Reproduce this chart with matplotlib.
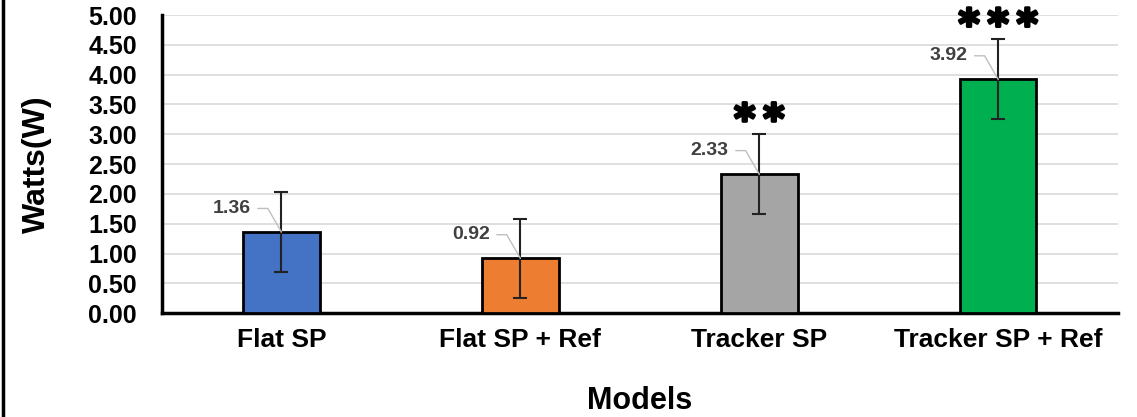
import matplotlib.pyplot as plt
import matplotlib.patheffects as pe
from matplotlib.lines import Line2D

plt.rcParams['font.family'] = ['Liberation Sans', 'DejaVu Sans']

models = ['Flat SP', 'Flat SP + Ref', 'Tracker SP', 'Tracker SP + Ref']
watts = [1.36, 0.92, 2.33, 3.92]
errs = [0.67, 0.66, 0.67, 0.67]
stars = ['', '', '**', '***']
colors = ['#4472C4', '#ED7D31', '#A5A5A5', '#00B050']

fig = plt.figure(figsize=(11.37, 4.17), dpi=100)
ax = fig.add_axes([0.1425, 0.249, 0.8405, 0.715])

x = range(len(models))
ax.bar(x, watts, width=0.32, color=colors, edgecolor='black', linewidth=2, zorder=3)
ax.errorbar(x, watts, yerr=errs, fmt='none', ecolor='#222222', elinewidth=1.5,
            capsize=5, capthick=1.5, zorder=4)

for i, v in enumerate(watts):
    ax.annotate('%.2f' % v, xy=(i, v), xytext=(-22, 17), textcoords='offset points',
                ha='right', va='center', fontsize=14, fontweight='bold', color='#404040',
                arrowprops=dict(arrowstyle='-', color='#BFBFBF', lw=1,
                                shrinkA=3, shrinkB=0, relpos=(1, 0.5),
                                connectionstyle='angle,angleA=180,angleB=120,rad=0'),
                zorder=5)
    if stars[i]:
        ax.text(i, v + errs[i] + 0.03, '\u2009'.join(stars[i]), ha='center', va='baseline',
                fontsize=29, fontweight='bold', family='DejaVu Sans',
                color='black', clip_on=False, zorder=5,
                path_effects=[pe.withStroke(linewidth=2.2, foreground='black')])

ax.set_xlim(-0.5, 3.5)
ax.set_ylim(0, 5)
ax.set_yticks([i * 0.5 for i in range(11)])
ax.set_yticklabels(['%.2f' % (i * 0.5) for i in range(11)])
ax.set_xticks(list(x))
ax.set_xticklabels(models)
ax.tick_params(axis='y', length=0, pad=18, labelsize=18)
ax.tick_params(axis='x', length=0, pad=11, labelsize=19)
for lab in ax.get_xticklabels() + ax.get_yticklabels():
    lab.set_fontweight('bold')

ax.grid(axis='y', color='#D9D9D9', linewidth=1.2, zorder=0)
ax.set_axisbelow(True)
for s in ['top', 'right']:
    ax.spines[s].set_visible(False)
for s in ['left', 'bottom']:
    ax.spines[s].set_linewidth(2.5)
    ax.spines[s].set_color('black')

ax.set_ylabel('Watts(W)', fontsize=23, fontweight='bold', labelpad=26)
ax.set_xlabel('Models', fontsize=22, fontweight='bold', labelpad=24)

fig.add_artist(Line2D([0.0025, 0.0025], [0, 1], color='black', lw=2.5))

fig.savefig('out.png', dpi=100)
